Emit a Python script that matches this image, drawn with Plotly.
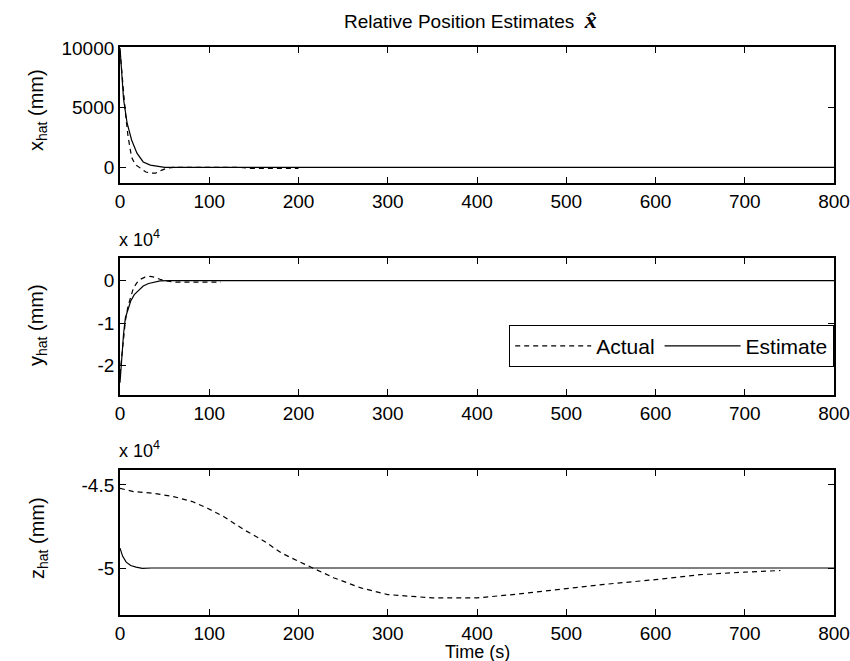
import plotly.graph_objects as go

# ---- relative position history (time in s, position in mm) ----
# x component
t_x_act = [0, 3, 6, 9, 11, 13, 17, 23, 29, 34, 40, 47, 53, 60, 135, 145, 200]
x_act = [9800, 7000, 4600, 2600, 1500, 850, 250, -100, -380, -470, -470, -220, -50, 0, 0, -70, -70]
t_x_est = [0, 1, 2, 4, 8, 13, 19, 26, 34, 42, 50, 800]
x_est = [10000, 9000, 7900, 5700, 3700, 2300, 1200, 460, 200, 80, 0, 0]

# y component
t_y_act = [0, 3, 6, 9, 12, 15, 19, 23, 28, 34, 40, 46, 52, 60, 113]
y_act = [-22000, -15000, -9500, -6000, -3600, -1800, -500, 300, 800, 1000, 700, 200, -100, -350, -350]
t_y_est = [0, 2, 4, 6, 9, 12, 16, 20, 26, 32, 38, 45, 55, 800]
y_est = [-24000, -17000, -12500, -8800, -6500, -4800, -3300, -2400, -1300, -700, -350, -80, 0, 0]

# z component
t_z_act = [0, 15, 37, 60, 81, 98, 116, 139, 162, 181, 200, 220, 240, 270, 300,
           350, 400, 440, 490, 540, 600, 650, 700, 740]
z_act = [-45200, -45400, -45500, -45700, -46000, -46400, -46900, -47700, -48400,
         -49100, -49600, -50100, -50600, -51200, -51600, -51800, -51800, -51600,
         -51300, -51000, -50700, -50400, -50250, -50150]
t_z_est = [0, 3, 7, 12, 18, 25, 35, 800]
z_est = [-48800, -49300, -49650, -49850, -49950, -50020, -50000, -50000]

# axis ticks
time_ticks = [0, 100, 200, 300, 400, 500, 600, 700, 800]
x_ticks = [0, 5000, 10000]
x_ticktext = ["0", "5000", "10000"]
y_ticks = [-20000, -10000, 0]
y_ticktext = ["-2", "-1", "0"]
z_ticks = [-50000, -45000]
z_ticktext = ["-5", "-4.5"]

W, H = 850, 661


def fx(p):
    return p / W


def fy(p):
    return 1 - p / H


SANS = "Liberation Sans, Arial"
DASH = "5px,4px"

fig = go.Figure()

series = [
    (t_x_act, x_act, t_x_est, x_est, "x", "y"),
    (t_y_act, y_act, t_y_est, y_est, "x2", "y2"),
    (t_z_act, z_act, t_z_est, z_est, "x3", "y3"),
]
for i, (ta, va, te, ve, xa, ya) in enumerate(series):
    fig.add_trace(go.Scatter(x=ta, y=va, mode="lines", name="Actual",
                             line=dict(color="black", width=1.2, dash=DASH),
                             xaxis=xa, yaxis=ya, showlegend=(i == 1)))
    fig.add_trace(go.Scatter(x=te, y=ve, mode="lines", name="Estimate",
                             line=dict(color="black", width=1.2),
                             xaxis=xa, yaxis=ya, showlegend=(i == 1)))

common = dict(showline=True, linecolor="black", linewidth=1.8, mirror="allticks",
              ticks="inside", ticklen=6, tickwidth=1.4, tickcolor="black",
              showgrid=False, zeroline=False, automargin=False,
              ticklabeloverflow="allow",
              tickfont=dict(family=SANS, size=19, color="black"))

xdom = [fx(120), fx(834)]
ydoms = [[fy(183), fy(47)], [fy(395), fy(258)], [fy(615), fy(470)]]
yranges = [[-1300, 10080], [-26900, 5300], [-52830, -44100]]
yticks = [(x_ticks, x_ticktext), (y_ticks, y_ticktext), (z_ticks, z_ticktext)]

layout = dict(width=W, height=H, margin=dict(l=0, r=0, t=0, b=0, pad=0,
                                             autoexpand=False),
              paper_bgcolor="white", plot_bgcolor="white", showlegend=True)
for k in range(3):
    sx = "" if k == 0 else str(k + 1)
    layout["xaxis" + sx] = dict(domain=xdom, range=[0, 800], tickvals=time_ticks,
                                anchor="y" + sx, **common)
    layout["yaxis" + sx] = dict(domain=ydoms[k], range=yranges[k],
                                tickvals=yticks[k][0], ticktext=yticks[k][1],
                                anchor="x" + sx, **common)
fig.update_layout(**layout)

fig.update_layout(legend=dict(orientation="h", x=fx(834), xanchor="right",
                              y=fy(346), yanchor="middle",
                              bordercolor="black", borderwidth=1.2, bgcolor="white",
                              font=dict(family=SANS, size=21, color="black"),
                              itemwidth=76, tracegroupgap=0))

ann = []
# title
ann.append(dict(text="Relative Position Estimates  "
                     "<span style='font-family:Liberation Serif;font-size:24px'><b><i>x̂</i></b></span>",
                x=fx(470), y=fy(20), xref="paper", yref="paper", showarrow=False,
                xanchor="center", yanchor="middle",
                font=dict(family=SANS, size=19, color="black")))
# axis labels
for label, yc in [("x<sub>hat</sub> (mm)", 110), ("y<sub>hat</sub> (mm)", 325),
                  ("z<sub>hat</sub> (mm)", 538)]:
    ann.append(dict(text=label, x=fx(38), y=fy(yc), xref="paper", yref="paper",
                    showarrow=False, textangle=-90, xanchor="center", yanchor="middle",
                    font=dict(family=SANS, size=20, color="black")))
# exponent markers
for yb in [252, 463]:
    ann.append(dict(text="x 10<sup>4</sup>", x=fx(117), y=fy(yb), xref="paper",
                    yref="paper", showarrow=False, xanchor="left", yanchor="bottom",
                    font=dict(family=SANS, size=18, color="black")))
# time axis label
ann.append(dict(text="Time (s)", x=fx(477), y=fy(652), xref="paper", yref="paper",
                showarrow=False, xanchor="center", yanchor="middle",
                font=dict(family=SANS, size=18, color="black")))
fig.update_layout(annotations=ann)

fig.write_html("out.html")
